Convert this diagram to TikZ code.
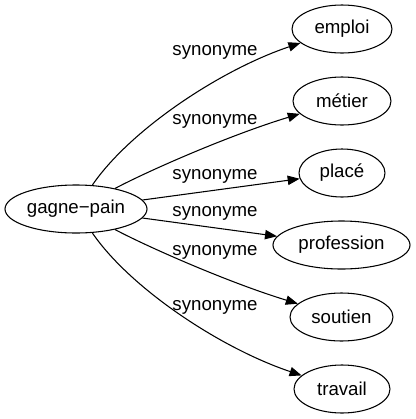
\documentclass[tikz,border=0pt]{standalone}
\usepackage{fontspec}
\setmainfont{Liberation Sans}
\usetikzlibrary{shapes.geometric,arrows.meta}
\begin{document}
\begin{tikzpicture}[x=0.75pt,y=-0.75pt,
  font=\fontsize{14pt}{16pt}\selectfont,
  term/.style={ellipse, draw, line width=0.8pt, minimum height=36pt, inner sep=0pt},
  rel/.style={-{Triangle[length=9pt,width=7pt]}, line width=0.8pt},
  lab/.style={inner sep=0pt}]
\useasboundingbox (0,0) rectangle (416,419);
\node[term, minimum width=106.5pt] (g) at (76,209) {gagne−pain};
\node[term, minimum width=75pt] (e1) at (342,29) {emploi};
\node[term, minimum width=73.5pt] (e2) at (342,101) {métier};
\node[term, minimum width=64.5pt] (e3) at (342,173) {placé};
\node[term, minimum width=102.75pt] (e4) at (341.5,245) {profession};
\node[term, minimum width=77.25pt] (e5) at (341.5,317) {soutien};
\node[term, minimum width=72pt] (e6) at (342,389) {travail};
\node[lab] (l1) at (215,52) {synonyme};
\node[lab] (l2) at (215,121) {synonyme};
\node[lab] (l3) at (215,176) {synonyme};
\node[lab] (l4) at (215,213) {synonyme};
\node[lab] (l5) at (215,252) {synonyme};
\node[lab] (l6) at (215,307) {synonyme};
\draw[rel] (g) .. controls (130,130) and (220,70) .. (e1);
\draw[rel] (g) .. controls (150,170) and (230,135) .. (e2);
\draw[rel] (g) -- (e3);
\draw[rel] (g) -- (e4);
\draw[rel] (g) .. controls (150,248) and (230,283) .. (e5);
\draw[rel] (g) .. controls (130,288) and (220,348) .. (e6);
\end{tikzpicture}
\end{document}
